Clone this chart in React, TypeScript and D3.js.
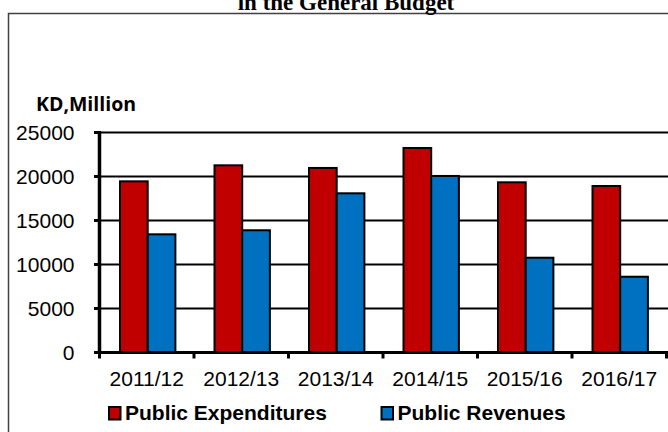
import React from "react";
import * as d3 from "d3";

// Fiscal years shown along the category axis
const years = ["2011/12", "2012/13", "2013/14", "2014/15", "2015/16", "2016/17"];
// KD, million
const expenditures = [19450, 21270, 20970, 23240, 19340, 18920];
const revenues = [13430, 13890, 18090, 20060, 10770, 8610];
const seriesNames = ["Public Expenditures", "Public Revenues"];
const seriesColors = ["#C00000", "#0070C0"];
const yTicks = [0, 5000, 10000, 15000, 20000, 25000];

const W = 668;
const H = 432;
const plot = { left: 99.5, right: 666.5, top: 132.5, bottom: 352.5 };

export default function App() {
  const x = d3.scaleBand<string>().domain(years).range([plot.left, plot.right]).paddingInner(0).paddingOuter(0);
  const bw = x.bandwidth();
  const inner = d3
    .scaleBand<string>()
    .domain(seriesNames)
    .range([bw * 0.217, bw * 0.803])
    .paddingInner(0);
  const y = d3.scaleLinear().domain([0, 25000]).range([plot.bottom, plot.top]);

  const rows = years.map((yr, i) => ({ yr, values: [expenditures[i], revenues[i]] }));
  const sans = "'Liberation Sans', Arial, sans-serif";

  return (
    <svg
      width={W}
      height={H}
      viewBox={`0 0 ${W} ${H}`}
      style={{ position: "absolute", left: 0, top: 0, background: "#fff" }}
    >
      {/* outer frame */}
      <rect x={8.5} y={13.5} width={W + 20} height={H + 20} fill="none" stroke="#404040" strokeWidth={1.5} />

      {/* title (second line) */}
      <text
        x={346}
        y={9.5}
        textAnchor="middle"
        fontFamily="'Liberation Serif', 'Times New Roman', serif"
        fontWeight="bold"
        fontSize={23}
        fill="#000"
      >
        in the General Budget
      </text>

      {/* unit label */}
      <text x={36} y={111} fontFamily="'Open Sans', sans-serif" fontWeight="bold" fontSize={19.5} fill="#000">
        KD,Million
      </text>

      {/* horizontal gridlines */}
      {yTicks.slice(1).map((t) => (
        <line key={`g${t}`} x1={plot.left} x2={W} y1={y(t)} y2={y(t)} stroke="#000" strokeWidth={2} />
      ))}

      {/* bars */}
      {rows.map((r) => (
        <g key={r.yr} transform={`translate(${x(r.yr)},0)`}>
          {r.values.map((v, j) => (
            <rect
              key={j}
              x={inner(seriesNames[j])}
              y={y(v)}
              width={inner.bandwidth()}
              height={y(0) - y(v)}
              fill={seriesColors[j]}
              stroke="#000"
              strokeWidth={2}
            />
          ))}
        </g>
      ))}

      {/* y axis */}
      <line x1={plot.left} x2={plot.left} y1={plot.top - 1.5} y2={plot.bottom + 1.5} stroke="#000" strokeWidth={3.5} />
      {yTicks.map((t) => (
        <g key={`yt${t}`}>
          <line x1={94} x2={plot.left} y1={y(t)} y2={y(t)} stroke="#000" strokeWidth={3} />
          <text
            x={74.5}
            y={y(t)}
            dy="0.36em"
            textAnchor="end"
            fontFamily={sans}
            fontSize={21}
            fill="#000"
          >
            {t}
          </text>
        </g>
      ))}

      {/* x axis */}
      <line x1={94} x2={W} y1={plot.bottom} y2={plot.bottom} stroke="#000" strokeWidth={3} />
      {years.map((yr) => (
        <line
          key={`xt${yr}`}
          x1={x(yr)!}
          x2={x(yr)!}
          y1={plot.bottom}
          y2={plot.bottom + 6}
          stroke="#000"
          strokeWidth={3}
        />
      ))}
      <line x1={plot.right} x2={plot.right} y1={plot.bottom} y2={plot.bottom + 6} stroke="#000" strokeWidth={3} />
      {years.map((yr) => (
        <text
          key={`xl${yr}`}
          x={x(yr)! + bw / 2}
          y={386}
          textAnchor="middle"
          fontFamily={sans}
          fontSize={21}
          fill="#000"
        >
          {yr}
        </text>
      ))}

      {/* legend */}
      {seriesNames.map((name, j) => {
        const lx = j === 0 ? 109 : 381.5;
        return (
          <g key={name}>
            <rect x={lx} y={407} width={11.5} height={12.5} fill={seriesColors[j]} stroke="#000" strokeWidth={2} />
            <text x={lx + 16} y={419.5} fontFamily={sans} fontWeight="bold" fontSize={21} fill="#000">
              {name}
            </text>
          </g>
        );
      })}
    </svg>
  );
}
